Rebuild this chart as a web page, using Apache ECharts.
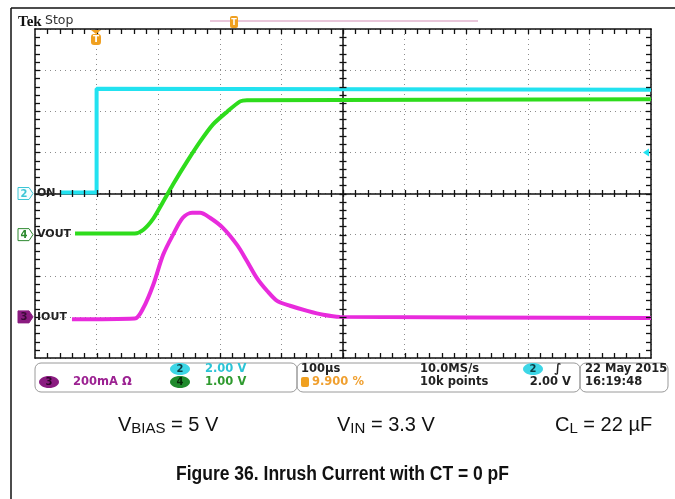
<!DOCTYPE html>
<html>
<head>
<meta charset="utf-8">
<script src="https://cdn.jsdelivr.net/npm/echarts@6/dist/echarts.min.js"></script>
<style>
  html, body { margin: 0; padding: 0; background: #fff; }
  #c { width: 675px; height: 499px; }
</style>
</head>
<body>
<div id="c"></div>
<script>
// Horizontal: 100 µs/div over 10 divisions, trigger position 9.9 % of record
const timeMinUs = 0;
const timeMaxUs = 1000;
const timePerDivUs = 100;
const triggerTimeUs = 99;

// CH2 — ON (volts)
const onTimeUs = [41, 100, 100, 1000];
const onVolts  = [0.05, 0.05, 5.1, 5.05];

// CH4 — VOUT (volts)
const voutTimeUs = [65, 162, 176, 192, 208, 224, 247, 268, 289, 312, 333, 344, 1000];
const voutVolts  = [0.03, 0.03, 0.12, 0.39, 0.80, 1.22, 1.78, 2.26, 2.68, 2.99, 3.24, 3.27, 3.29];

// CH3 — IOUT (milliamps)
const ioutTimeUs    = [60, 162, 176, 192, 208, 224, 240, 255, 268, 284, 305, 328, 344, 360, 377, 393, 414, 442, 468, 495, 1000];
const ioutMilliamps = [-12, -8, 44, 156, 302, 399, 482, 506, 506, 482, 433, 350, 272, 190, 126, 78, 54, 29, 10, 0, -5];

// Vertical settings: scale per division and reference level position (in divisions from centre)
const ch2VoltsPerDiv = 2, ch2RefDiv = 0;
const ch4VoltsPerDiv = 1, ch4RefDiv = -1;
const ch3MilliampsPerDiv = 200, ch3RefDiv = -3;
const ch2TriggerLevelV = 2.0;

// Readout texts
const readoutCh2 = '2.00 V';
const readoutCh4 = '1.00 V';
const readoutCh3 = '200mA \u03a9';
const readoutTimebase = '100\u00b5s';
const readoutTrigPos = '9.900 %';
const readoutRate = '10.0MS/s';
const readoutPoints = '10k points';
const readoutTrigLevel = '2.00 V';
const readoutDate = '22 May 2015';
const readoutTime = '16:19:48';

const zip = (xs, ys) => xs.map((x, i) => [x, ys[i]]);

const chart = echarts.init(document.getElementById('c'), null, { renderer: 'canvas' });

const GRID = { left: 35, top: 29, width: 616, height: 329 };
const DIVS_X = 10, DIVS_Y = 8, MINOR = 5;
const inkColor = '#111111';
const dotColor = '#8c8c8c';

const CYAN = '#22e2f0';
const GREEN = '#2edc1c';
const MAGENTA = '#e82bdc';

function xAxisDef(position, offset, showSplit) {
  return {
    type: 'value', min: timeMinUs, max: timeMaxUs, interval: timePerDivUs,
    position: position, offset: offset,
    axisLabel: { show: false }, axisTick: { show: false },
    axisLine: { show: true, onZero: false, lineStyle: { color: inkColor, width: 1.5 } },
    splitLine: { show: showSplit, lineStyle: { color: dotColor, width: 1, type: [1, 4] } }
  };
}

function yAxisDef(position, offset, showSplit) {
  return {
    type: 'value', min: -DIVS_Y / 2, max: DIVS_Y / 2, interval: 1,
    position: position, offset: offset,
    axisLabel: { show: false }, axisTick: { show: false },
    axisLine: { show: true, onZero: false, lineStyle: { color: inkColor, width: 1.5 } },
    splitLine: { show: showSplit, lineStyle: { color: dotColor, width: 1, type: [1, 4] } }
  };
}

function channelAxis(perDiv, refDiv) {
  return {
    type: 'value', show: false,
    min: (-DIVS_Y / 2 - refDiv) * perDiv,
    max: (DIVS_Y / 2 - refDiv) * perDiv,
    axisLine: { onZero: false }
  };
}

chart.setOption({
  animation: false,
  backgroundColor: '#ffffff',
  grid: Object.assign({ containLabel: false }, GRID),
  xAxis: [
    xAxisDef('bottom', 0, true),
    xAxisDef('top', 0, false),
    xAxisDef('bottom', -GRID.height / 2, false)
  ],
  yAxis: [
    yAxisDef('left', 0, true),
    yAxisDef('right', 0, false),
    yAxisDef('left', -GRID.width / 2, false),
    channelAxis(ch2VoltsPerDiv, ch2RefDiv),
    channelAxis(ch4VoltsPerDiv, ch4RefDiv),
    channelAxis(ch3MilliampsPerDiv, ch3RefDiv)
  ],
  series: [
    {
      name: 'ON', type: 'line', xAxisIndex: 0, yAxisIndex: 3,
      data: zip(onTimeUs, onVolts), showSymbol: false, z: 3,
      lineStyle: { color: CYAN, width: 4 }
    },
    {
      name: 'VOUT', type: 'line', xAxisIndex: 0, yAxisIndex: 4,
      data: zip(voutTimeUs, voutVolts), showSymbol: false, smooth: 0.25, z: 4,
      lineStyle: { color: GREEN, width: 4 }
    },
    {
      name: 'IOUT', type: 'line', xAxisIndex: 0, yAxisIndex: 5,
      data: zip(ioutTimeUs, ioutMilliamps), showSymbol: false, smooth: 0.3, z: 4,
      lineStyle: { color: MAGENTA, width: 4 }
    }
  ]
});

// ---- overlay: graticule ticks, scope annotations, readouts and figure text ----
const measureCtx = document.createElement('canvas').getContext('2d');
function textWidth(str, font) { measureCtx.font = font; return measureCtx.measureText(str).width; }

const px = (yIdx, t, v) => chart.convertToPixel({ xAxisIndex: 0, yAxisIndex: yIdx }, [t, v]);

const g = [];
const seg = (x1, y1, x2, y2, stroke, w) => g.push({
  type: 'line', z: 50,
  shape: { x1: x1, y1: y1, x2: x2, y2: y2 }, style: { stroke: stroke, lineWidth: w }
});
const txt = (x, y, text, font, fill, align, extra) => g.push(Object.assign({
  type: 'text', z: 60,
  style: { x: x, y: y, text: text, font: font, fill: fill, align: align || 'left', verticalAlign: 'middle' }
}, extra || {}));

// graticule minor ticks: along the border (inward) and across the centre lines
const gTop = GRID.top, gBot = GRID.top + GRID.height;
const gLeft = GRID.left, gRight = GRID.left + GRID.width;
const cX = gLeft + GRID.width / 2, cY = gTop + GRID.height / 2;
const stepX = GRID.width / (DIVS_X * MINOR), stepY = GRID.height / (DIVS_Y * MINOR);
const tickW = 1.3;
for (let i = 1; i < DIVS_X * MINOR; i++) {
  const x = Math.round(gLeft + i * stepX) + 0.5;
  seg(x, gTop, x, gTop + 5, inkColor, tickW);
  seg(x, gBot, x, gBot - 5, inkColor, tickW);
  seg(x, cY - 3.5, x, cY + 3.5, inkColor, tickW);
}
for (let i = 1; i < DIVS_Y * MINOR; i++) {
  const y = Math.round(gTop + i * stepY) + 0.5;
  seg(gLeft, y, gLeft + 5, y, inkColor, tickW);
  seg(gRight, y, gRight - 5, y, inkColor, tickW);
  seg(cX - 3.5, y, cX + 3.5, y, inkColor, tickW);
}

// outer frame
seg(11, 8, 675, 8, '#111', 1.5);
seg(11, 8, 11, 499, '#111', 1.5);

// header
txt(18, 22, 'Tek', 'bold 15px "Liberation Serif"', '#111');
txt(45, 21, 'Stop', '12.5px "DejaVu Sans"', '#333');

// record view bar with trigger-position flag
seg(210, 21, 478, 21, '#e9c6da', 2);
g.push({ type: 'rect', z: 61, shape: { x: 230, y: 16, width: 8, height: 12, r: 2 }, style: { fill: '#f0a020' } });
txt(234, 23, 'T', 'bold 8px "DejaVu Sans"', '#fff', 'center', { z: 62 });

// trigger position marker inside the graticule
const trigX = px(3, triggerTimeUs, 0)[0];
g.push({ type: 'polygon', z: 61, shape: { points: [[trigX - 5, 30], [trigX + 5, 30], [trigX, 34]] }, style: { fill: '#f0a020' } });
g.push({ type: 'rect', z: 61, shape: { x: trigX - 5, y: 34, width: 10, height: 11, r: 3 }, style: { fill: '#f0a020' } });
txt(trigX, 40, 'T', 'bold 9px "DejaVu Sans"', '#fff', 'center', { z: 62 });

// CH2 trigger level arrow at right edge
const trigLevelY = px(3, timeMaxUs, ch2TriggerLevelV)[1];
g.push({ type: 'polygon', z: 61, shape: { points: [[gRight - 8, trigLevelY], [gRight - 2, trigLevelY - 4], [gRight - 2, trigLevelY + 4]] }, style: { fill: CYAN } });

// channel reference markers and names
function chanMarker(y, num, name, stroke, fill, numColor) {
  const x0 = 18;
  g.push({
    type: 'polygon', z: 61,
    shape: { points: [[x0, y - 6], [x0 + 11, y - 6], [x0 + 15, y], [x0 + 11, y + 6], [x0, y + 6]] },
    style: { fill: fill, stroke: stroke, lineWidth: 1 }
  });
  txt(x0 + 6, y + 0.5, num, 'bold 10px "DejaVu Sans"', numColor, 'center', { z: 62 });
  txt(37, y, name, 'bold 11px "DejaVu Sans"', '#222');
}
chanMarker(px(3, 0, 0)[1], '2', 'ON', '#3cc6d6', '#f4feff', '#3cc6d6');
chanMarker(px(4, 0, 0)[1], '4', 'VOUT', '#2e8a30', '#ffffff', '#2e8a30');
chanMarker(px(5, 0, 0)[1], '3', 'IOUT', '#8a1b80', '#8a1b80', '#3a0a36');

// readout boxes
const row1 = 369, row2 = 382;
const boxTop = 363, boxH = 29;
[[35, 297], [297, 580], [580, 668]].forEach(([a, b]) => g.push({
  type: 'rect', z: 55, shape: { x: a, y: boxTop, width: b - a, height: boxH, r: 6 },
  style: { fill: 'none', stroke: '#9a9a9a', lineWidth: 1 }
}));
const roFont = 'bold 11.5px "DejaVu Sans"';
function badge(cx, cy, num, fill, numColor) {
  g.push({ type: 'ellipse', z: 61, shape: { cx: cx, cy: cy, rx: 10, ry: 6 }, style: { fill: fill } });
  txt(cx, cy, num, 'bold 10px "DejaVu Sans"', numColor, 'center', { z: 62 });
}
badge(180, row1, '2', '#3dd6e6', '#0b3d44');
txt(205, row1, readoutCh2, roFont, '#2cc4d6');
badge(49, row2, '3', '#8a1b80', '#2d0629');
txt(73, row2, readoutCh3, roFont, '#9c2292');
badge(180, row2, '4', '#1f8a2c', '#062b0a');
txt(205, row2, readoutCh4, roFont, '#2f9a2f');

txt(301, row1, readoutTimebase, roFont, '#222');
g.push({ type: 'rect', z: 61, shape: { x: 301, y: row2 - 5, width: 8, height: 10, r: 2 }, style: { fill: '#f0a020' } });
txt(312, row2, readoutTrigPos, roFont, '#f0a030');
txt(420, row1, readoutRate, roFont, '#222');
txt(420, row2, readoutPoints, roFont, '#222');
badge(533, row1, '2', '#3dd6e6', '#0b3d44');
txt(558, row1, '\u222b', 'bold 12px "DejaVu Sans"', '#222', 'center');
txt(571, row2, readoutTrigLevel, roFont, '#222', 'right');
txt(585, row1, readoutDate, roFont, '#222');
txt(585, row2, readoutTime, roFont, '#222');

// test-condition line with subscripts
const mainFont = '20px "Liberation Sans"';
const subFont = '15px "Liberation Sans"';
function subLabel(x, base, main, sub, rest) {
  const w1 = textWidth(main, mainFont);
  const w2 = textWidth(sub, subFont);
  txt(x, base - 7, main, mainFont, '#111');
  txt(x + w1, base - 3, sub, subFont, '#111');
  txt(x + w1 + w2, base - 7, rest, mainFont, '#111');
}
subLabel(118, 432, 'V', 'BIAS', ' = 5 V');
subLabel(337, 432, 'V', 'IN', ' = 3.3 V');
subLabel(555, 432, 'C', 'L', ' = 22 \u00b5F');

// figure caption
const capFont = 'bold 20px "Liberation Sans"';
const caption = 'Figure 36. Inrush Current with CT = 0 pF';
const capW = textWidth(caption, capFont);
const capTarget = 333;
txt(176, 474, caption, capFont, '#111', 'left', { scaleX: capTarget / capW, originX: 176, originY: 474 });

chart.setOption({ graphic: g });
</script>
</body>
</html>
